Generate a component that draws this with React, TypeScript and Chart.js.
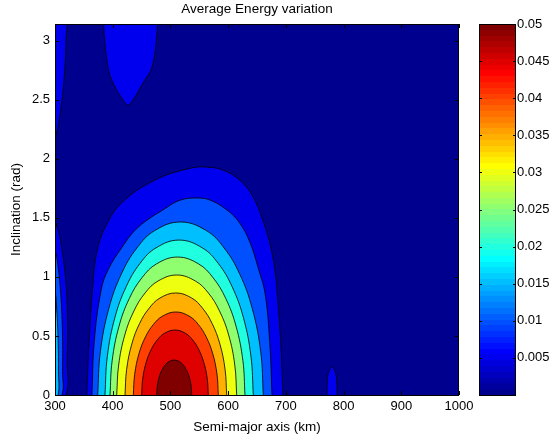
import React, { useEffect, useRef } from 'react';
import { Chart, registerables } from 'chart.js';

Chart.register(...registerables);

// ---------- axes / ticks ----------
const X_RANGE = [300, 1000];
const Y_RANGE = [0, Math.PI];
const X_TICKS = [300, 400, 500, 600, 700, 800, 900, 1000];
const Y_TICKS = [0, 0.5, 1, 1.5, 2, 2.5, 3];
const CBAR_RANGE = [0, 0.05];
const CBAR_TICKS = [0.005, 0.01, 0.015, 0.02, 0.025, 0.03, 0.035, 0.04, 0.045, 0.05];

// contour levels (lower bound of each filled band)
const LEVELS = [0, 0.005, 0.01, 0.015, 0.02, 0.025, 0.03, 0.035, 0.04, 0.045, 0.05];

const TITLE = 'Average Energy variation';
const X_TITLE = 'Semi-major axis (km)';
const Y_TITLE = 'Inclination (rad)';

// ---------- contour boundaries [semi-major axis (km), inclination (rad)] ----------
const L0_DOMAIN: number[][] = [
  [X_RANGE[0], Y_RANGE[0]], [X_RANGE[1], Y_RANGE[0]], [X_RANGE[1], Y_RANGE[1]], [X_RANGE[0], Y_RANGE[1]],
];
const L1_MAIN: number[][] = [
  [355, 0], [359, 0.45], [365, 0.9], [372, 1.2], [387, 1.42], [416, 1.63], [473, 1.82], [534, 1.92],
  [563, 1.93], [591, 1.905], [620, 1.82], [643, 1.68], [660, 1.48], [672, 1.29], [681, 1.06],
  [686, 0.8], [691, 0.45], [695, 0],
];
const L1_TOP_LEFT: number[][] = [
  [296, 2.17], [300, 2.185], [305.2, 2.27], [312.1, 2.5], [317.3, 2.78], [319.1, 3.0], [319.5, 3.3], [296, 3.3],
];
const L1_TOP_BLOB: number[][] = [
  [384, 3.3], [385, 3.065], [391.8, 2.777], [400.5, 2.642], [417.8, 2.498], [426.5, 2.456],
  [435.2, 2.498], [452.5, 2.642], [468.1, 2.777], [476.7, 3.065], [478, 3.3],
];
const L1_LEFT: number[][] = [
  [296, 1.49], [300, 1.465], [307, 1.37], [313, 1.2], [319, 0.95], [322, 0.6], [321, 0.3], [319, 0], [296, -0.05],
];
const L1_BLOB_780: number[][] = [
  [771, 0], [771.5, 0.085], [773.5, 0.18], [780, 0.237], [786.5, 0.18], [788.5, 0.085], [789, 0],
];
const L2_MAIN: number[][] = [
  [364, 0], [368, 0.45], [380, 0.89], [392, 1.06], [416, 1.25], [444, 1.42], [491, 1.58], [517, 1.65],
  [545, 1.668], [569, 1.65], [598, 1.566], [620, 1.456], [638, 1.29], [653, 1.06], [664, 0.86],
  [672, 0.45], [676, 0],
];
const L2_LEFT: number[][] = [
  [296, 1.25], [300, 1.23], [305, 1.1], [310, 0.85], [313, 0.5], [313, 0.2], [312, 0], [296, -0.05],
];
const L3_MAIN: number[][] = [
  [374.0, 0], [378.6, 0.366], [393.3, 0.733], [415.1, 1.026], [441.9, 1.245], [472.7, 1.392], [517.5, 1.465],
  [562.3, 1.392], [593.1, 1.245], [619.9, 1.026], [641.7, 0.733], [656.4, 0.366], [660.9, 0],
];
const L3_LEFT: number[][] = [
  [296, 0.9], [300, 0.88], [303, 0.72], [305.5, 0.45], [306, 0.2], [305.5, 0], [296, -0.05],
];
const L4_MAIN: number[][] = [
  [386.6, 0], [390.7, 0.328], [403.8, 0.656], [423.4, 0.918], [447.4, 1.115], [475.0, 1.246], [515.1, 1.312],
  [555.2, 1.246], [582.8, 1.115], [606.8, 0.918], [626.4, 0.656], [639.5, 0.328], [643.6, 0],
];
const L5_MAIN: number[][] = [
  [395.3, 0], [399.1, 0.292], [411.0, 0.584], [428.8, 0.818], [450.7, 0.993], [475.8, 1.11], [512.3, 1.168],
  [548.8, 1.11], [573.9, 0.993], [595.8, 0.818], [613.6, 0.584], [625.5, 0.292], [629.2, 0],
];
const L6_MAIN: number[][] = [
  [406.9, 0], [410.3, 0.254], [420.9, 0.508], [436.7, 0.711], [456.1, 0.864], [478.5, 0.965], [510.9, 1.016],
  [543.3, 0.965], [565.7, 0.864], [585.1, 0.711], [600.9, 0.508], [611.5, 0.254], [614.8, 0],
];
const L7_MAIN: number[][] = [
  [421.3, 0], [424.1, 0.216], [433.1, 0.432], [446.5, 0.605], [463.0, 0.734], [481.9, 0.821], [509.4, 0.864],
  [536.9, 0.821], [555.8, 0.734], [572.3, 0.605], [585.7, 0.432], [594.7, 0.216], [597.5, 0],
];
const L8_MAIN: number[][] = [
  [435.7, 0], [438.1, 0.176], [445.6, 0.352], [456.8, 0.492], [470.6, 0.598], [486.4, 0.668], [509.4, 0.703],
  [532.4, 0.668], [548.2, 0.598], [562.0, 0.492], [573.2, 0.352], [580.7, 0.176], [583.0, 0],
];
const L9_MAIN: number[][] = [
  [450.2, 0], [452.0, 0.138], [457.9, 0.275], [466.7, 0.385], [477.5, 0.468], [489.9, 0.523], [507.9, 0.55],
  [525.9, 0.523], [538.3, 0.468], [549.1, 0.385], [557.9, 0.275], [563.8, 0.138], [565.6, 0],
];
const L10_MAIN: number[][] = [
  [476.2, 0], [477.2, 0.074], [480.3, 0.148], [484.9, 0.207], [490.6, 0.252], [497.1, 0.281], [506.6, 0.296],
  [516.1, 0.281], [522.5, 0.252], [528.2, 0.207], [532.8, 0.148], [535.9, 0.074], [536.9, 0],
];

// drawing order: lowest band first
const CONTOURS: { level: number; pts: number[][] }[] = [
  { level: 0, pts: L0_DOMAIN },
  { level: 1, pts: L1_MAIN },
  { level: 1, pts: L1_TOP_LEFT },
  { level: 1, pts: L1_TOP_BLOB },
  { level: 1, pts: L1_LEFT },
  { level: 1, pts: L1_BLOB_780 },
  { level: 2, pts: L2_MAIN },
  { level: 2, pts: L2_LEFT },
  { level: 3, pts: L3_MAIN },
  { level: 3, pts: L3_LEFT },
  { level: 4, pts: L4_MAIN },
  { level: 5, pts: L5_MAIN },
  { level: 6, pts: L6_MAIN },
  { level: 7, pts: L7_MAIN },
  { level: 8, pts: L8_MAIN },
  { level: 9, pts: L9_MAIN },
  { level: 10, pts: L10_MAIN },
];

// ---------- styling ----------
const FONT = "'Liberation Sans', Arial, Helvetica, sans-serif";
const TEXT = '#000';

// MATLAB jet(64) colormap
function jet64(): number[][] {
  const m = 64;
  const n = Math.ceil(m / 4);
  const u: number[] = [];
  for (let i = 1; i <= n; i++) u.push(i / n);
  for (let i = 1; i < n; i++) u.push(1);
  for (let i = n; i >= 1; i--) u.push(i / n);
  const g0 = Math.ceil(n / 2) - (m % 4 === 1 ? 1 : 0);
  const r = new Array(m).fill(0), g = new Array(m).fill(0), b = new Array(m).fill(0);
  for (let j = 1; j <= u.length; j++) {
    const gi = g0 + j, ri = gi + n, bi = gi - n;
    if (gi >= 1 && gi <= m) g[gi - 1] = u[j - 1];
    if (ri >= 1 && ri <= m) r[ri - 1] = u[j - 1];
    if (bi >= 1 && bi <= m) b[bi - 1] = u[j - 1];
  }
  return r.map((_, i) => [Math.round(r[i] * 255), Math.round(g[i] * 255), Math.round(b[i] * 255)]);
}
const JET = jet64();
const rgb = (c: number[]) => `rgb(${c[0]},${c[1]},${c[2]})`;
function levelColor(level: number): string {
  const v = LEVELS[level];
  const t = (v - CBAR_RANGE[0]) / (CBAR_RANGE[1] - CBAR_RANGE[0]);
  const idx = Math.max(0, Math.min(63, Math.floor(t * 64 + 1e-9)));
  return rgb(JET[idx]);
}

function makeFrame(axes: string[], len: number) {
  return {
    id: 'frameTicks',
    afterDraw(chart: any) {
      const { ctx, chartArea: a } = chart;
      ctx.save();
      ctx.strokeStyle = '#000';
      ctx.lineWidth = 1;
      ctx.beginPath();
      for (const id of axes) {
        const s = chart.scales[id];
        for (const t of s.ticks) {
          const p = Math.round(s.getPixelForValue(t.value)) + 0.5;
          if (s.isHorizontal()) {
            ctx.moveTo(p, a.bottom); ctx.lineTo(p, a.bottom - len);
            ctx.moveTo(p, a.top); ctx.lineTo(p, a.top + len);
          } else {
            ctx.moveTo(a.left, p); ctx.lineTo(a.left + len, p);
            ctx.moveTo(a.right, p); ctx.lineTo(a.right - len, p);
          }
        }
      }
      ctx.stroke();
      ctx.strokeRect(Math.round(a.left) + 0.5, Math.round(a.top) + 0.5,
        Math.round(a.right - a.left) - 1, Math.round(a.bottom - a.top));
      ctx.restore();
    },
  };
}

export default function App() {
  const mainRef = useRef<HTMLCanvasElement>(null);
  const cbRef = useRef<HTMLCanvasElement>(null);

  useEffect(() => {
    const tickFont = { family: FONT, size: 13 };
    const titleFont = { family: FONT, size: 13.5 };

    const main = new Chart(mainRef.current as HTMLCanvasElement, {
      type: 'line',
      data: {
        datasets: CONTOURS.map((c, i) => ({
          data: c.pts.map(([x, y]) => ({ x, y })),
          showLine: true,
          pointRadius: 0,
          pointHoverRadius: 0,
          borderColor: c.level === 0 ? 'rgba(0,0,0,0)' : 'rgba(0,0,0,0.9)',
          borderWidth: c.level === 0 ? 0 : 0.9,
          backgroundColor: levelColor(c.level),
          fill: 'shape',
          tension: c.level === 0 ? 0 : 0.4,
          order: CONTOURS.length - i,
        })) as any,
      },
      options: {
        responsive: false,
        animation: false,
        events: [],
        layout: { padding: { left: 0, right: 94, top: 0, bottom: 0 } },
        plugins: {
          legend: { display: false },
          tooltip: { enabled: false },
          title: {
            display: true,
            text: TITLE,
            color: TEXT,
            font: { ...titleFont, weight: 'normal' },
            padding: { top: 1.5, bottom: 6.3 },
            fullSize: false,
          },
        },
        scales: {
          x: {
            type: 'linear',
            min: X_RANGE[0],
            max: X_RANGE[1],
            afterBuildTicks: (s: any) => { s.ticks = X_TICKS.map((v) => ({ value: v })); },
            afterFit: (s: any) => { s.height = 45; },
            ticks: { color: TEXT, font: tickFont, padding: 4, maxRotation: 0, autoSkip: false, callback: (v: any) => String(v) },
            grid: { display: false, drawTicks: false },
            border: { display: false },
            title: { display: true, text: X_TITLE, color: TEXT, font: titleFont, padding: { top: 0, bottom: 5 } },
          },
          y: {
            type: 'linear',
            min: Y_RANGE[0],
            max: Y_RANGE[1],
            afterBuildTicks: (s: any) => { s.ticks = Y_TICKS.map((v) => ({ value: v })); },
            afterFit: (s: any) => { s.width = 55; },
            ticks: { color: TEXT, font: tickFont, padding: 5, autoSkip: false, callback: (v: any) => String(v) },
            grid: { display: false, drawTicks: false },
            border: { display: false },
            title: { display: true, text: Y_TITLE, color: TEXT, font: titleFont, padding: { top: 8, bottom: 0 } },
          },
        },
      } as any,
      plugins: [makeFrame(['x', 'y'], 4)],
    });

    const cb = new Chart(cbRef.current as HTMLCanvasElement, {
      type: 'bar',
      data: {
        labels: [''],
        datasets: [{
          data: [[CBAR_RANGE[0], CBAR_RANGE[1]]] as any,
          borderWidth: 0,
          barPercentage: 1,
          categoryPercentage: 1,
          inflateAmount: 0,
          backgroundColor: (ctx: any) => {
            const chart = ctx.chart;
            const ys = chart.scales && chart.scales.y;
            if (!chart.chartArea || !ys) return rgb(JET[0]);
            const y0 = ys.getPixelForValue(CBAR_RANGE[0]);
            const y1 = ys.getPixelForValue(CBAR_RANGE[1]);
            const g = chart.ctx.createLinearGradient(0, y0, 0, y1);
            JET.forEach((c, i) => {
              g.addColorStop(i / JET.length, rgb(c));
              g.addColorStop((i + 1) / JET.length, rgb(c));
            });
            return g;
          },
        }],
      },
      options: {
        responsive: false,
        animation: false,
        events: [],
        layout: { padding: { left: 9, right: 0, top: 24, bottom: 45 } },
        plugins: { legend: { display: false }, tooltip: { enabled: false } },
        scales: {
          x: { display: false },
          y: {
            position: 'right',
            min: CBAR_RANGE[0],
            max: CBAR_RANGE[1],
            afterBuildTicks: (s: any) => { s.ticks = CBAR_TICKS.map((v) => ({ value: v })); },
            afterFit: (s: any) => { s.width = 37; },
            ticks: { color: TEXT, font: tickFont, padding: 1, autoSkip: false, callback: (v: any) => String(v) },
            grid: { display: false, drawTicks: false },
            border: { display: false },
          },
        },
      } as any,
      plugins: [makeFrame(['y'], 3)],
    });

    return () => { main.destroy(); cb.destroy(); };
  }, []);

  return (
    <div style={{ position: 'fixed', left: 0, top: 0, width: 553, height: 440, background: '#fff' }}>
      <canvas ref={mainRef} width={553} height={440} style={{ position: 'absolute', left: 0, top: 0 }} />
      <canvas ref={cbRef} width={83} height={440} style={{ position: 'absolute', left: 470, top: 0 }} />
    </div>
  );
}
